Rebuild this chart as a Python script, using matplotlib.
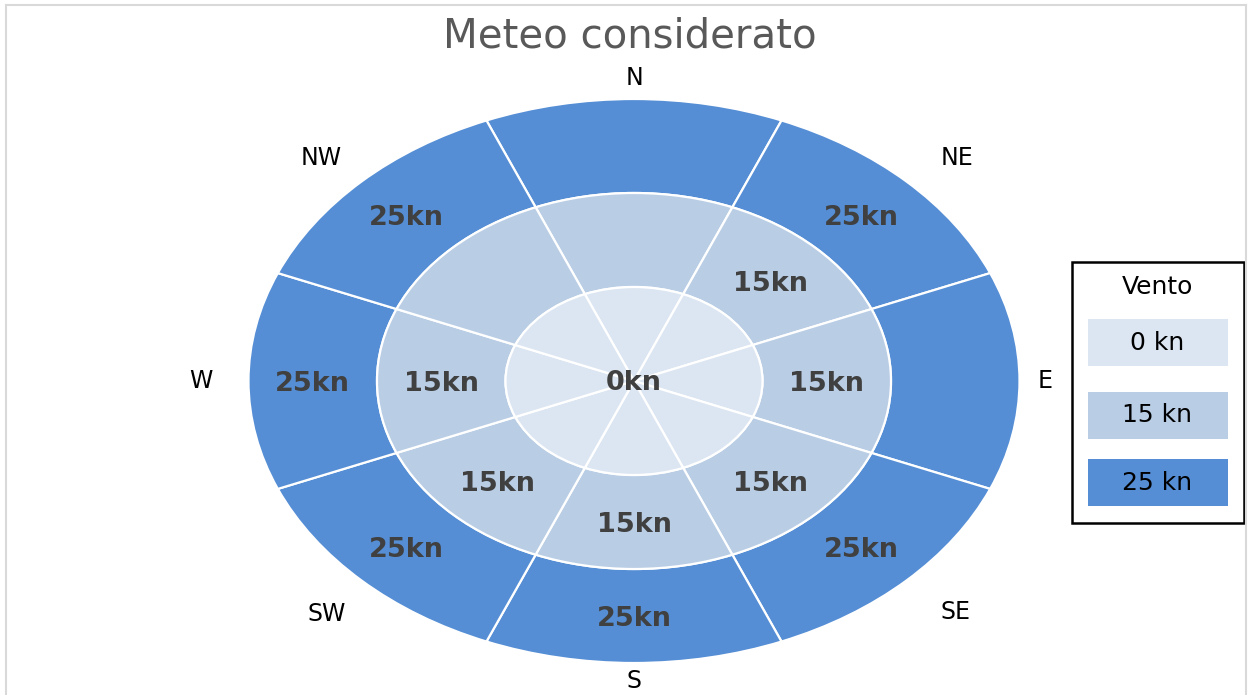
import matplotlib
matplotlib.use("Agg")
import matplotlib.pyplot as plt
from matplotlib.patches import Rectangle
import numpy as np

# --- dati ---
directions = ['N', 'NE', 'E', 'SE', 'S', 'SW', 'W', 'NW']
ring_names = ['0 kn', '15 kn', '25 kn']
ring_colors = ['#DCE6F2', '#B9CDE5', '#558ED5']
center_label = '0kn'
middle_labels = ['', '15kn', '15kn', '15kn', '15kn', '15kn', '15kn', '']
outer_labels = ['', '25kn', '', '25kn', '25kn', '25kn', '25kn', '25kn']
slice_values = [1] * len(directions)

W, H = 1248, 695
fig = plt.figure(figsize=(W / 100, H / 100), dpi=100)
ax = fig.add_axes([0, 0, 1, 1])

# anelli (ciambella), dal piu esterno al piu interno
for k in range(3, 0, -1):
    ax.pie(slice_values, radius=k, startangle=90 + 22.5, counterclock=False,
           colors=[ring_colors[k - 1]] * len(directions),
           wedgeprops=dict(width=1, edgecolor='white', linewidth=1.6))

# ellisse stirata come nell'originale
cx, cy = 634, H - 381
sx, sy = 128.5, 94.0
ax.set_aspect('auto')
ax.set_xlim(-cx / sx, (W - cx) / sx)
ax.set_ylim(-cy / sy, (H - cy) / sy)
ax.axis('off')

angles = np.deg2rad(90 - 45 * np.arange(len(directions)))
lab_style = dict(ha='center', va='center', fontsize=19.5, fontweight='bold',
                 color='#404040')
ax.text(0, -0.02, center_label, **lab_style)
for a, m, o in zip(angles, middle_labels, outer_labels):
    if m:
        ax.text(1.5 * np.cos(a), 1.5 * np.sin(a) - 0.03, m, **lab_style)
    if o:
        ax.text(2.5 * np.cos(a), 2.5 * np.sin(a) - 0.03, o, **lab_style)

# etichette delle direzioni
label_rx = [3.22, 3.56, 3.2, 3.54, 3.21, 3.38, 3.37, 3.44]
label_ry = [3.22, 3.35, 3.2, 3.48, 3.19, 3.51, 3.37, 3.35]
for a, d, rx, ry in zip(angles, directions, label_rx, label_ry):
    ax.text(rx * np.cos(a), ry * np.sin(a), d, ha='center', va='center',
            fontsize=17, color='black')

# titolo
fig.text(630 / W, 1 - 37 / H, 'Meteo considerato', ha='center', va='center',
         fontsize=29, color='#595959')

# cornice grigia
frame = dict(color='#D9D9D9', lw=1.5)
fig.add_artist(plt.Line2D([6 / W, 1246 / W], [1 - 5 / H, 1 - 5 / H], **frame))
fig.add_artist(plt.Line2D([6 / W, 6 / W], [0, 1 - 5 / H], **frame))
fig.add_artist(plt.Line2D([1246 / W, 1246 / W], [0, 1 - 5 / H], **frame))


# legenda personalizzata
def px(x0, y0, x1, y1):
    return (x0 / W, 1 - y1 / H), (x1 - x0) / W, (y1 - y0) / H


xy, w, h = px(1072, 262, 1244, 523)
fig.add_artist(Rectangle(xy, w, h, transform=fig.transFigure, fill=False,
                         edgecolor='black', lw=1.8))
fig.text(1157 / W, 1 - 287 / H, 'Vento', ha='center', va='center', fontsize=18)
boxes = [(319, 366), (392, 439), (459, 506)]
for (y0, y1), name, col in zip(boxes, ring_names, ring_colors):
    xy, w, h = px(1088, y0, 1228, y1)
    fig.add_artist(Rectangle(xy, w, h, transform=fig.transFigure,
                             facecolor=col, edgecolor='none'))
    fig.text(1157 / W, 1 - (y0 + y1) / 2 / H, name, ha='center', va='center',
             fontsize=18, color='black')

fig.savefig('out.png', dpi=100)
